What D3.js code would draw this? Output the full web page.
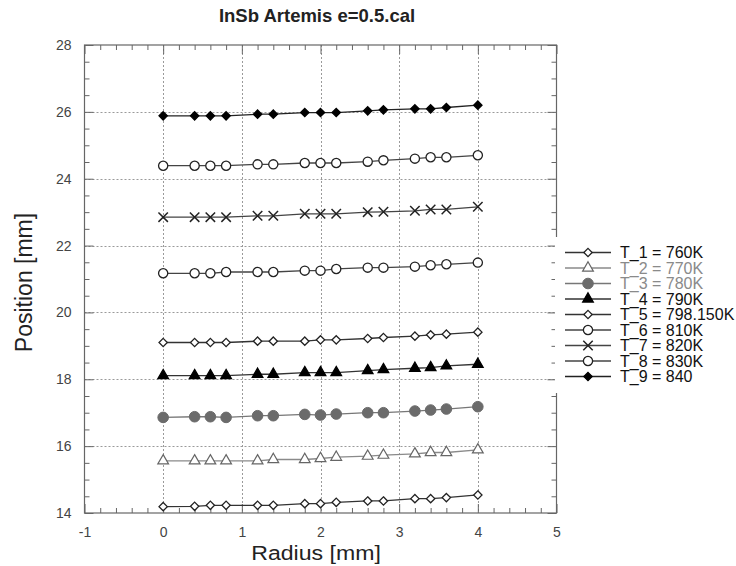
<!DOCTYPE html>
<html>
<head>
<meta charset="utf-8">
<script src="https://cdn.jsdelivr.net/npm/d3@7"></script>
<style>
  html, body { margin: 0; padding: 0; background: #fff; }
  svg { display: block; font-family: "Liberation Sans", Arial, Helvetica, sans-serif; }
</style>
</head>
<body>
<svg id="chart" width="736" height="566"></svg>
<script>
// Radius positions shared by every temperature series
const radius = [0, 0.4, 0.6, 0.8, 1.2, 1.4, 1.8, 2.0, 2.2, 2.6, 2.8, 3.2, 3.4, 3.6, 4.0];

// Position [mm] for each temperature
const T1 = [14.19, 14.20, 14.23, 14.23, 14.23, 14.23, 14.28, 14.28, 14.32, 14.36, 14.36, 14.43, 14.43, 14.46, 14.54];
const T2 = [15.56, 15.56, 15.56, 15.56, 15.56, 15.60, 15.60, 15.63, 15.67, 15.70, 15.73, 15.77, 15.81, 15.81, 15.89];
const T3 = [16.86, 16.88, 16.88, 16.86, 16.91, 16.91, 16.95, 16.93, 16.96, 17.00, 17.00, 17.05, 17.08, 17.11, 17.18];
const T4 = [18.11, 18.11, 18.11, 18.11, 18.15, 18.15, 18.20, 18.20, 18.20, 18.26, 18.29, 18.33, 18.35, 18.40, 18.45];
const T5 = [19.10, 19.10, 19.10, 19.10, 19.14, 19.14, 19.14, 19.18, 19.18, 19.22, 19.25, 19.29, 19.33, 19.35, 19.41];
const T6 = [21.17, 21.17, 21.17, 21.21, 21.21, 21.21, 21.25, 21.25, 21.30, 21.34, 21.34, 21.37, 21.41, 21.44, 21.49];
const T7 = [22.85, 22.85, 22.85, 22.85, 22.89, 22.89, 22.95, 22.95, 22.95, 23.00, 23.01, 23.04, 23.08, 23.08, 23.16];
const T8 = [24.39, 24.39, 24.39, 24.39, 24.43, 24.43, 24.47, 24.47, 24.47, 24.51, 24.55, 24.60, 24.64, 24.64, 24.70];
const T9 = [25.88, 25.88, 25.88, 25.88, 25.93, 25.93, 25.98, 25.98, 25.98, 26.03, 26.06, 26.09, 26.09, 26.13, 26.20];

const seriesLabels = ["T_1 = 760K", "T_2 = 770K", "T_3 = 780K", "T_4 = 790K", "T_5 = 798.150K",
                      "T_6 = 810K", "T_7 = 820K", "T_8 = 830K", "T_9 = 840"];
const seriesValues = [T1, T2, T3, T4, T5, T6, T7, T8, T9];

// Axis ticks
const xTicks = [-1, 0, 1, 2, 3, 4, 5];
const yTicks = [14, 16, 18, 20, 22, 24, 26, 28];

const title = "InSb Artemis e=0.5.cal";
const xTitle = "Radius [mm]";
const yTitle = "Position [mm]";

// Marker style per series
const styles = [
  { shape: "diamond",  fill: "#fff",  stroke: "#222", line: "#333", text: "#111" },
  { shape: "triangle", fill: "#fff",  stroke: "#666", line: "#8a8a8a", text: "#8a8a8a" },
  { shape: "circleL",  fill: "#6b6b6b", stroke: "#6b6b6b", line: "#777", text: "#8a8a8a" },
  { shape: "triangle", fill: "#000",  stroke: "#000", line: "#333", text: "#111" },
  { shape: "diamond",  fill: "#fff",  stroke: "#222", line: "#333", text: "#111" },
  { shape: "circle",   fill: "#fff",  stroke: "#222", line: "#444", text: "#111" },
  { shape: "cross",    fill: "none",  stroke: "#222", line: "#444", text: "#111" },
  { shape: "circle",   fill: "#fff",  stroke: "#222", line: "#444", text: "#111" },
  { shape: "diamond",  fill: "#000",  stroke: "#000", line: "#222", text: "#111" }
];

const svg = d3.select("#chart");
const W = 736, H = 566;
const plot = { left: 84.5, right: 556.5, top: 45, bottom: 513 };

svg.append("rect").attr("width", W).attr("height", H).attr("fill", "#fff");

const x = d3.scaleLinear().domain([-1, 5]).range([plot.left, plot.right]);
const y = d3.scaleLinear().domain([14, 28]).range([plot.bottom, plot.top]);

// Dotted grid at major ticks
const grid = svg.append("g").attr("stroke", "#9a9a9a").attr("stroke-width", 1).attr("stroke-dasharray", "2,2");
grid.selectAll("line.v").data(xTicks.slice(1, -1)).join("line")
  .attr("x1", d => Math.round(x(d)) + 0.5).attr("x2", d => Math.round(x(d)) + 0.5)
  .attr("y1", plot.top).attr("y2", plot.bottom);
grid.selectAll("line.h").data(yTicks.slice(1, -1)).join("line")
  .attr("y1", d => Math.round(y(d)) + 0.5).attr("y2", d => Math.round(y(d)) + 0.5)
  .attr("x1", plot.left).attr("x2", plot.right);

// Axes: major ticks with labels, minor ticks without
function styleAxis(g) {
  g.select(".domain").remove();
  g.selectAll(".tick line").attr("stroke", "#666");
  g.selectAll(".tick text").attr("fill", "#444").attr("font-size", 14);
}
const plain = d => String(d);
const xMinor = d3.range(-1, 5.001, 0.2).map(v => +v.toFixed(1)).filter(v => !xTicks.includes(v));
const yMinor = d3.range(14, 28.001, 0.5).filter(v => !yTicks.includes(v));

svg.append("g").attr("transform", `translate(0,${plot.bottom})`)
  .call(d3.axisBottom(x).tickValues(xTicks).tickFormat(plain).tickSizeInner(-9).tickSizeOuter(0).tickPadding(14))
  .call(styleAxis);
svg.append("g").attr("transform", `translate(0,${plot.bottom})`)
  .call(d3.axisBottom(x).tickValues(xMinor).tickFormat("").tickSizeInner(-5).tickSizeOuter(0))
  .call(styleAxis);
svg.append("g").attr("transform", `translate(0,${plot.top})`)
  .call(d3.axisTop(x).tickValues(xTicks).tickFormat("").tickSizeInner(-9).tickSizeOuter(0))
  .call(styleAxis);
svg.append("g").attr("transform", `translate(0,${plot.top})`)
  .call(d3.axisTop(x).tickValues(xMinor).tickFormat("").tickSizeInner(-5).tickSizeOuter(0))
  .call(styleAxis);

svg.append("g").attr("transform", `translate(${plot.left},0)`)
  .call(d3.axisLeft(y).tickValues(yTicks).tickFormat(plain).tickSizeInner(-9).tickSizeOuter(0).tickPadding(13))
  .call(styleAxis);
svg.append("g").attr("transform", `translate(${plot.left},0)`)
  .call(d3.axisLeft(y).tickValues(yMinor).tickFormat("").tickSizeInner(-5).tickSizeOuter(0))
  .call(styleAxis);
svg.append("g").attr("transform", `translate(${plot.right},0)`)
  .call(d3.axisRight(y).tickValues(yTicks).tickFormat("").tickSizeInner(-9).tickSizeOuter(0))
  .call(styleAxis);
svg.append("g").attr("transform", `translate(${plot.right},0)`)
  .call(d3.axisRight(y).tickValues(yMinor).tickFormat("").tickSizeInner(-5).tickSizeOuter(0))
  .call(styleAxis);

// Plot frame
svg.append("rect")
  .attr("x", plot.left).attr("y", plot.top)
  .attr("width", plot.right - plot.left).attr("height", plot.bottom - plot.top)
  .attr("fill", "none").attr("stroke", "#666").attr("stroke-width", 1.2);

// Marker drawing
function drawMarker(g, shape, st) {
  if (shape === "diamond") {
    g.append("path").attr("d", d3.symbol(d3.symbolDiamond2, 44)())
      .attr("fill", st.fill).attr("stroke", st.stroke).attr("stroke-width", 1.3);
  } else if (shape === "triangle") {
    g.append("path").attr("d", d3.symbol(d3.symbolTriangle, 50)())
      .attr("fill", st.fill).attr("stroke", st.stroke).attr("stroke-width", 1.2);
  } else if (shape === "circle") {
    g.append("circle").attr("r", 4.6)
      .attr("fill", st.fill).attr("stroke", st.stroke).attr("stroke-width", 1.3);
  } else if (shape === "circleL") {
    g.append("circle").attr("r", 5.3)
      .attr("fill", st.fill).attr("stroke", st.stroke).attr("stroke-width", 1);
  } else if (shape === "cross") {
    g.append("path").attr("d", d3.symbol(d3.symbolX, 60)())
      .attr("fill", "none").attr("stroke", st.stroke).attr("stroke-width", 1.5);
  }
}

const line = d3.line().x(d => x(d[0])).y(d => y(d[1]));

seriesValues.forEach((vals, i) => {
  const st = styles[i];
  const pts = radius.map((r, k) => [r, vals[k]]);
  const g = svg.append("g");
  g.append("path").datum(pts).attr("d", line)
    .attr("fill", "none").attr("stroke", st.line).attr("stroke-width", 1.3);
  pts.forEach(p => {
    const m = g.append("g").attr("transform", `translate(${x(p[0])},${y(p[1])})`);
    drawMarker(m, st.shape, st);
  });
});

// Legend box over the right edge
const legend = svg.append("g");
legend.append("rect").attr("x", 555).attr("y", 237).attr("width", 181).attr("height", 156).attr("fill", "#fff");
seriesLabels.forEach((label, i) => {
  const st = styles[i];
  const cy = 252.5 + i * 15.5;
  legend.append("line").attr("x1", 565).attr("x2", 611).attr("y1", cy).attr("y2", cy)
    .attr("stroke", st.line).attr("stroke-width", 1.6);
  const m = legend.append("g").attr("transform", `translate(588,${cy})`);
  drawMarker(m, st.shape, st);
  legend.append("text").attr("x", 620).attr("y", cy + 5.8)
    .attr("font-size", 16).attr("fill", st.text).text(label);
});

// Titles
svg.append("text").attr("x", 317).attr("y", 22).attr("text-anchor", "middle")
  .attr("font-size", 18.5).attr("font-weight", "bold").attr("fill", "#222").text(title);
svg.append("text").attr("transform", "translate(316,560) scale(1.1,1)").attr("text-anchor", "middle")
  .attr("font-size", 21).attr("fill", "#222").text(xTitle);
svg.append("text").attr("transform", "translate(32,282.5) rotate(-90)").attr("text-anchor", "middle")
  .attr("font-size", 23).attr("fill", "#222").text(yTitle);
</script>
</body>
</html>
